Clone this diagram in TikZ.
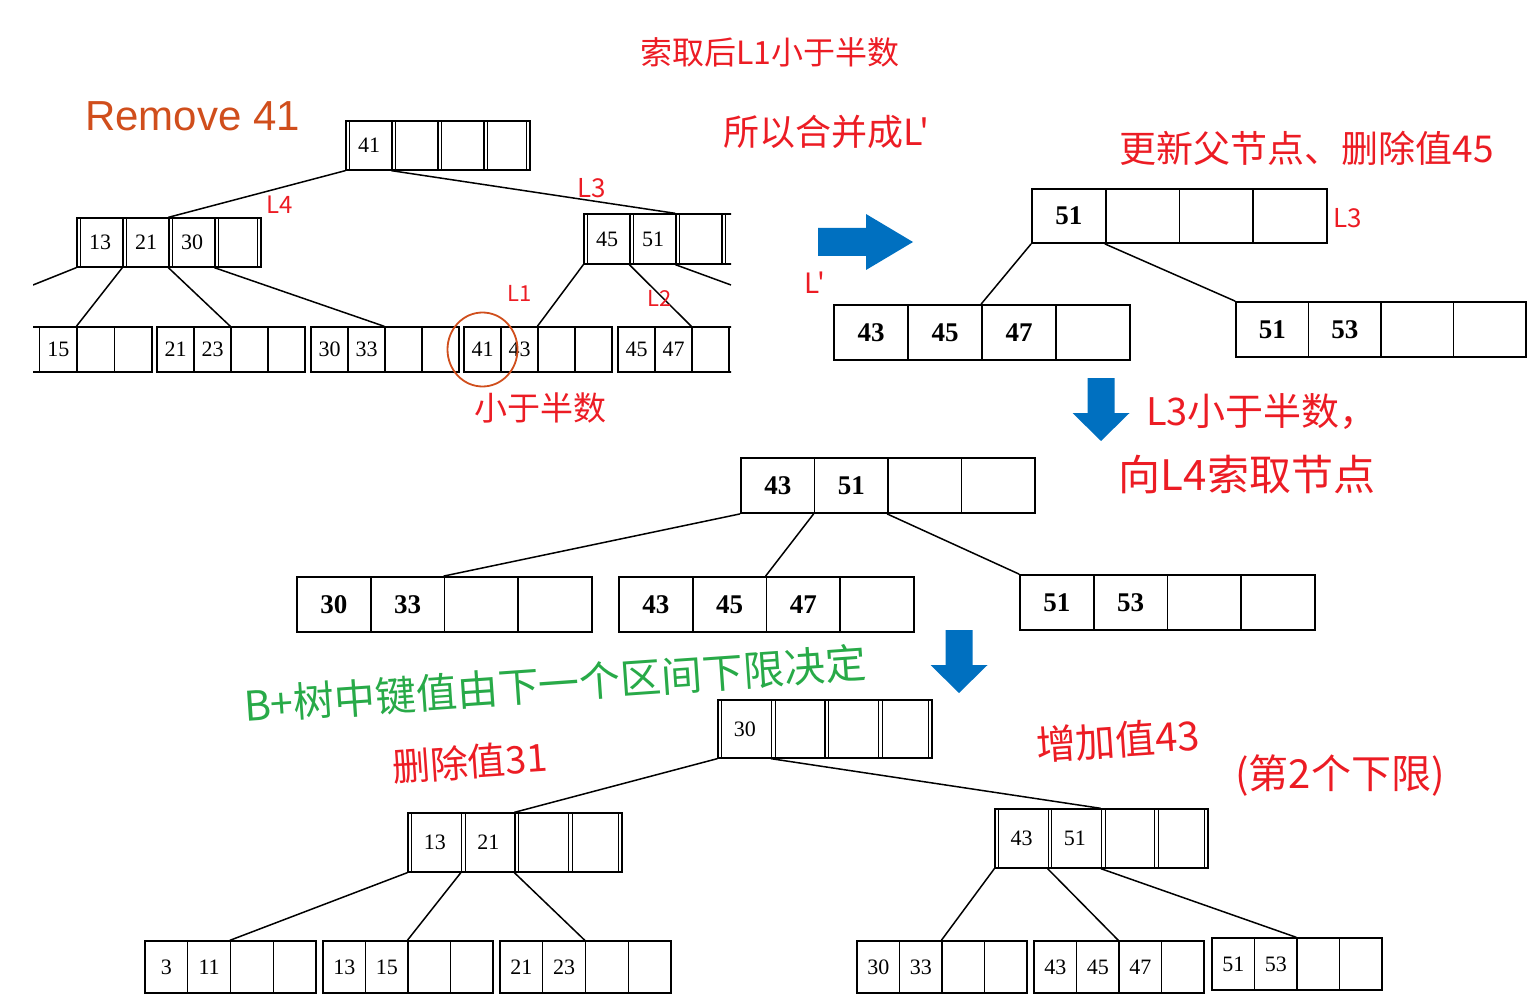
\documentclass[tikz,border=0pt]{standalone}
\usepackage{fontspec}
\setmainfont{Liberation Serif}
\newfontfamily\cjk{Noto Sans CJK SC}
\newfontfamily\arial{Liberation Sans}

\definecolor{pen}{RGB}{236,28,36}
\definecolor{greenpen}{RGB}{40,170,72}
\definecolor{ppt}{RGB}{0,112,192}
\definecolor{rust}{RGB}{208,78,28}

\begin{document}
\begin{tikzpicture}[x=1pt, y=-1pt,
  cell/.style={draw, line width=1.3pt, inner sep=0pt, font=\fontsize{22}{24}\selectfont},
  boldcell/.style={draw, line width=1.8pt, inner sep=0pt, font=\fontsize{27}{30}\selectfont\bfseries},
  link/.style={line width=1.5pt},
  scrawl/.style={text=pen, inner sep=0pt, font=\cjk\fontsize{#1}{#1}\selectfont},
  greenscrawl/.style={text=greenpen, inner sep=0pt, font=\cjk\fontsize{#1}{#1}\selectfont}]
\useasboundingbox (0,0) rectangle (1539,1008);

% Tree before the removal (cut at both sides)
\begin{scope}
\clip (33,0) rectangle (731,400);
\foreach \n/\x/\y/\w/\h/\keys in {
  root1/346/145.5/46/49/{41,{},{},{}},
  li1/77/242.5/46/49/{13,21,30,{}},
  ri1/584/239/46/50/{45,51,{},{}},
  lf1a/2/349.5/37.5/45/{{},15,{},{}},
  lf1b/157/349.5/37/45/{21,23,{},{}},
  lf1c/311/349.5/37/45/{30,33,{},{}},
  lf1d/464/349.5/37/45/{41,43,{},{}},
  lf1e/618/349.5/37/45/{45,47,{},{}}} {
  \foreach \k [count=\i] in \keys {
    \node [cell, minimum width=\w*1pt, minimum height=\h*1pt] (\n-\i) at ({\x+(\i-0.5)*\w}, \y) {\k};
  }
}
% double edges of the scanned index nodes
\foreach \n in {root1, li1, ri1} {
  \foreach \i in {1,...,4} {
    \draw [thin] ([xshift=4pt]\n-\i.north west) -- ([xshift=4pt]\n-\i.south west);
  }
  \draw [thin] ([xshift=-4pt]\n-4.north east) -- ([xshift=-4pt]\n-4.south east);
}
\coordinate (off1) at (33,285);
\coordinate (off2) at (731,285);
\foreach \a/\b in {root1-1/li1-3, root1-2/ri1-3, li1-2/lf1a-3, li1-3/lf1b-3,
  li1-4/lf1c-3, ri1-1/lf1d-3, ri1-2/lf1e-3} {
  \draw [link] (\a.south west) -- (\b.north west);
}
\draw [link] (li1-1.south west) -- (off1);
\draw [link] (ri1-3.south west) -- (off2);
\end{scope}

\node [text=rust, anchor=base west, inner sep=0pt, font=\arial\fontsize{42}{44}\selectfont] (title) at (85,131) {Remove 41};
\draw [rust, line width=1.8pt] (lf1d-1.center) ellipse [x radius=35, y radius=37];

% Merged and updated trees
\foreach \n/\x/\y/\w/\h/\keys in {
  root2/1032/216/73.75/54/{51,{},{},{}},
  lf2a/834/332.5/74/55/{43,45,47,{}},
  lf2b/1236/329.5/72.5/55/{51,53,{},{}},
  root3/741/485.5/73.5/55/{43,51,{},{}},
  lf3a/297/604.5/73.75/55/{30,33,{},{}},
  lf3b/619/604.5/73.75/55/{43,45,47,{}},
  lf3c/1020/602.5/73.75/55/{51,53,{},{}}} {
  \foreach \k [count=\i] in \keys {
    \node [boldcell, minimum width=\w*1pt, minimum height=\h*1pt] (\n-\i) at ({\x+(\i-0.5)*\w}, \y) {\k};
  }
}
\foreach \a/\b in {root2-1/lf2a-3, root2-2/lf2b-1, root3-1/lf3a-3, root3-2/lf3b-3, root3-3/lf3c-1} {
  \draw [link] (\a.south west) -- (\b.north west);
}

% Final tree
\foreach \n/\x/\y/\w/\h/\keys in {
  root4/718/729/53.5/58/{30,{},{},{}},
  li4/408/842.5/53.5/59/{13,21,{},{}},
  ri4/995/838.5/53.25/59/{43,51,{},{}},
  lf4a/145/967/42.75/52/{3,11,{},{}},
  lf4b/323/967/42.5/52/{13,15,{},{}},
  lf4c/500/967/42.75/52/{21,23,{},{}},
  lf4d/857/967/42.5/52/{30,33,{},{}},
  lf4e/1034/967/42.5/52/{43,45,47,{}},
  lf4f/1212/964/42.5/52/{51,53,{},{}}} {
  \foreach \k [count=\i] in \keys {
    \node [cell, minimum width=\w*1pt, minimum height=\h*1pt] (\n-\i) at ({\x+(\i-0.5)*\w}, \y) {\k};
  }
}
\foreach \n in {root4, li4, ri4} {
  \foreach \i in {1,...,4} {
    \draw [thin] ([xshift=4pt]\n-\i.north west) -- ([xshift=4pt]\n-\i.south west);
  }
  \draw [thin] ([xshift=-4pt]\n-4.north east) -- ([xshift=-4pt]\n-4.south east);
}
\foreach \a/\b in {root4-1/li4-3, root4-2/ri4-3, li4-1/lf4a-3, li4-2/lf4b-3, li4-3/lf4c-3,
  ri4-1/lf4d-3, ri4-2/lf4e-3, ri4-3/lf4f-3} {
  \draw [link] (\a.south west) -- (\b.north west);
}

% Blue arrows
\fill [ppt] (818,228) -- (866,228) -- (866,214) -- (913,242) -- (866,270) -- (866,256) -- (818,256) -- cycle;
\foreach \x/\y in {1101/378, 959/630} {
  \fill [ppt] (\x-13.5,\y) -- (\x+13.5,\y) -- (\x+13.5,\y+35) -- (\x+28.5,\y+35) -- (\x,\y+63)
    -- (\x-28.5,\y+35) -- (\x-13.5,\y+35) -- cycle;
}

% Handwritten notes
\node [scrawl=32] (n1) at (770,52) {索取后L1小于半数};
\node [scrawl=36] (n2) at (826,132) {所以合并成L'};
\node [scrawl=37] (n3) at (1307,148) {更新父节点、删除值45};
\node [scrawl=38] (n4) at (1262,412) {L3小于半数，};
\node [scrawl=42] (n5) at (1247,474) {向L4索取节点};
\node [scrawl=33] (n6) at (540,408) {小于半数};
\node [greenscrawl=41, rotate=4] (n7) at (555,684) {B+树中键值由下一个区间下限决定};
\node [scrawl=38, rotate=4] (n8) at (470,762) {删除值31};
\node [scrawl=40, rotate=4] (n9) at (1118,740) {增加值43};
\node [scrawl=40] (n10) at (1340,776) {(第2个下限)};

% Leaf and index tags
\foreach \x/\y/\s/\t [count=\j] in {280/205/24/L4, 592/188/26/L3, 520/293/22/L1, 660/298/22/L2,
  815/283/28/L', 1348/218/26/L3} {
  \node [scrawl=\s] (tag\j) at (\x,\y) {\t};
}
\end{tikzpicture}
\end{document}
